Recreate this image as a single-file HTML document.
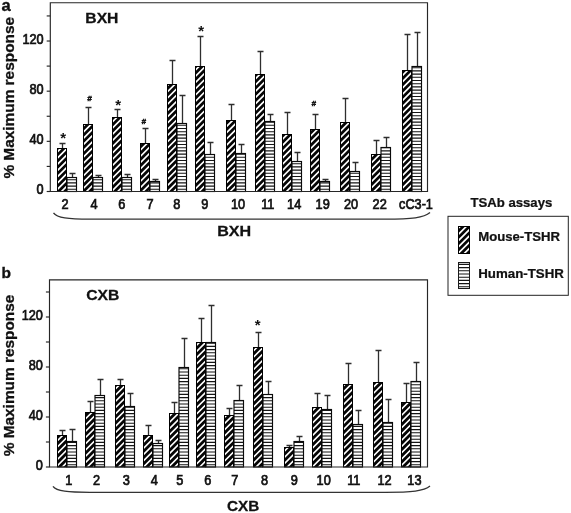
<!DOCTYPE html><html><head><meta charset="utf-8"><title>chart</title>
<style>html,body{margin:0;padding:0;background:#fff}body{width:571px;height:513px;overflow:hidden}svg{display:block;filter:grayscale(1)}text{font-family:"Liberation Sans",sans-serif;fill:#111}</style></head><body>
<svg width="571" height="513" viewBox="0 0 571 513">
<defs>
</defs>
<rect width="571" height="513" fill="#fff"/>
<clipPath id="cd1">
<rect x="57.00" y="148.00" width="10.0" height="43.50"/>
<rect x="83.00" y="124.00" width="10.0" height="67.50"/>
<rect x="112.00" y="117.00" width="10.0" height="74.50"/>
<rect x="140.00" y="143.00" width="10.0" height="48.50"/>
<rect x="167.00" y="84.00" width="10.0" height="107.50"/>
<rect x="195.00" y="66.00" width="10.0" height="125.50"/>
<rect x="226.00" y="120.00" width="10.0" height="71.50"/>
<rect x="255.00" y="74.00" width="10.0" height="117.50"/>
<rect x="282.00" y="134.00" width="10.0" height="57.50"/>
<rect x="310.00" y="129.00" width="10.0" height="62.50"/>
<rect x="340.00" y="122.00" width="10.0" height="69.50"/>
<rect x="371.00" y="154.00" width="10.0" height="37.50"/>
<rect x="402.00" y="70.00" width="10.0" height="121.50"/>
</clipPath>
<clipPath id="cl1">
<rect x="67.00" y="177.00" width="10.0" height="14.50"/>
<rect x="93.00" y="177.00" width="10.0" height="14.50"/>
<rect x="122.00" y="177.00" width="10.0" height="14.50"/>
<rect x="150.00" y="181.00" width="10.0" height="10.50"/>
<rect x="177.00" y="123.00" width="10.0" height="68.50"/>
<rect x="205.00" y="154.00" width="10.0" height="37.50"/>
<rect x="236.00" y="153.00" width="10.0" height="38.50"/>
<rect x="265.00" y="121.00" width="10.0" height="70.50"/>
<rect x="292.00" y="161.00" width="10.0" height="30.50"/>
<rect x="320.00" y="181.00" width="10.0" height="10.50"/>
<rect x="350.00" y="171.00" width="10.0" height="20.50"/>
<rect x="381.00" y="147.00" width="10.0" height="44.50"/>
<rect x="412.00" y="66.00" width="10.0" height="125.50"/>
</clipPath>
<path d="M62.50 148.00V143.50M59.50 143.50H65.50" stroke="#2e2e2e" stroke-width="1.3" fill="none"/>
<path d="M72.50 177.00V173.50M69.50 173.50H75.50" stroke="#2e2e2e" stroke-width="1.3" fill="none"/>
<path d="M88.50 124.00V107.50M85.50 107.50H91.50" stroke="#2e2e2e" stroke-width="1.3" fill="none"/>
<path d="M98.50 177.00V175.50M95.50 175.50H101.50" stroke="#2e2e2e" stroke-width="1.3" fill="none"/>
<path d="M117.50 117.00V109.50M114.50 109.50H120.50" stroke="#2e2e2e" stroke-width="1.3" fill="none"/>
<path d="M127.50 177.00V174.50M124.50 174.50H130.50" stroke="#2e2e2e" stroke-width="1.3" fill="none"/>
<path d="M145.50 143.00V128.50M142.50 128.50H148.50" stroke="#2e2e2e" stroke-width="1.3" fill="none"/>
<path d="M155.50 181.00V179.50M152.50 179.50H158.50" stroke="#2e2e2e" stroke-width="1.3" fill="none"/>
<path d="M172.50 84.00V60.50M169.50 60.50H175.50" stroke="#2e2e2e" stroke-width="1.3" fill="none"/>
<path d="M182.50 123.00V95.50M179.50 95.50H185.50" stroke="#2e2e2e" stroke-width="1.3" fill="none"/>
<path d="M200.50 66.00V36.50M197.50 36.50H203.50" stroke="#2e2e2e" stroke-width="1.3" fill="none"/>
<path d="M210.50 154.00V142.50M207.50 142.50H213.50" stroke="#2e2e2e" stroke-width="1.3" fill="none"/>
<path d="M231.50 120.00V104.50M228.50 104.50H234.50" stroke="#2e2e2e" stroke-width="1.3" fill="none"/>
<path d="M241.50 153.00V144.50M238.50 144.50H244.50" stroke="#2e2e2e" stroke-width="1.3" fill="none"/>
<path d="M260.50 74.00V51.50M257.50 51.50H263.50" stroke="#2e2e2e" stroke-width="1.3" fill="none"/>
<path d="M270.50 121.00V114.50M267.50 114.50H273.50" stroke="#2e2e2e" stroke-width="1.3" fill="none"/>
<path d="M287.50 134.00V112.50M284.50 112.50H290.50" stroke="#2e2e2e" stroke-width="1.3" fill="none"/>
<path d="M297.50 161.00V152.50M294.50 152.50H300.50" stroke="#2e2e2e" stroke-width="1.3" fill="none"/>
<path d="M315.50 129.00V114.50M312.50 114.50H318.50" stroke="#2e2e2e" stroke-width="1.3" fill="none"/>
<path d="M325.50 181.00V179.50M322.50 179.50H328.50" stroke="#2e2e2e" stroke-width="1.3" fill="none"/>
<path d="M345.50 122.00V98.50M342.50 98.50H348.50" stroke="#2e2e2e" stroke-width="1.3" fill="none"/>
<path d="M355.50 171.00V162.50M352.50 162.50H358.50" stroke="#2e2e2e" stroke-width="1.3" fill="none"/>
<path d="M376.50 154.00V140.50M373.50 140.50H379.50" stroke="#2e2e2e" stroke-width="1.3" fill="none"/>
<path d="M386.50 147.00V137.50M383.50 137.50H389.50" stroke="#2e2e2e" stroke-width="1.3" fill="none"/>
<path d="M407.50 70.00V34.50M404.50 34.50H410.50" stroke="#2e2e2e" stroke-width="1.3" fill="none"/>
<path d="M417.50 66.00V32.50M414.50 32.50H420.50" stroke="#2e2e2e" stroke-width="1.3" fill="none"/>
<g clip-path="url(#cd1)"><rect x="50.3" y="2.7" width="377.2" height="188.8" fill="#050505"/>
<path d="M48.30 4.70L52.30 0.70M48.30 10.95L58.55 0.70M48.30 17.20L64.80 0.70M48.30 23.45L71.05 0.70M48.30 29.70L77.30 0.70M48.30 35.95L83.55 0.70M48.30 42.20L89.80 0.70M48.30 48.45L96.05 0.70M48.30 54.70L102.30 0.70M48.30 60.95L108.55 0.70M48.30 67.20L114.80 0.70M48.30 73.45L121.05 0.70M48.30 79.70L127.30 0.70M48.30 85.95L133.55 0.70M48.30 92.20L139.80 0.70M48.30 98.45L146.05 0.70M48.30 104.70L152.30 0.70M48.30 110.95L158.55 0.70M48.30 117.20L164.80 0.70M48.30 123.45L171.05 0.70M48.30 129.70L177.30 0.70M48.30 135.95L183.55 0.70M48.30 142.20L189.80 0.70M48.30 148.45L196.05 0.70M48.30 154.70L202.30 0.70M48.30 160.95L208.55 0.70M48.30 167.20L214.80 0.70M48.30 173.45L221.05 0.70M48.30 179.70L227.30 0.70M48.30 185.95L233.55 0.70M48.30 192.20L239.80 0.70M48.30 198.45L246.05 0.70M48.30 204.70L252.30 0.70M48.30 210.95L258.55 0.70M48.30 217.20L264.80 0.70M48.30 223.45L271.05 0.70M48.30 229.70L277.30 0.70M48.30 235.95L283.55 0.70M48.30 242.20L289.80 0.70M48.30 248.45L296.05 0.70M48.30 254.70L302.30 0.70M48.30 260.95L308.55 0.70M48.30 267.20L314.80 0.70M48.30 273.45L321.05 0.70M48.30 279.70L327.30 0.70M48.30 285.95L333.55 0.70M48.30 292.20L339.80 0.70M48.30 298.45L346.05 0.70M48.30 304.70L352.30 0.70M48.30 310.95L358.55 0.70M48.30 317.20L364.80 0.70M48.30 323.45L371.05 0.70M48.30 329.70L377.30 0.70M48.30 335.95L383.55 0.70M48.30 342.20L389.80 0.70M48.30 348.45L396.05 0.70M48.30 354.70L402.30 0.70M48.30 360.95L408.55 0.70M48.30 367.20L414.80 0.70M48.30 373.45L421.05 0.70M48.30 379.70L427.30 0.70M48.30 385.95L433.55 0.70M48.30 392.20L439.80 0.70M48.30 398.45L446.05 0.70M48.30 404.70L452.30 0.70M48.30 410.95L458.55 0.70M48.30 417.20L464.80 0.70M48.30 423.45L471.05 0.70M48.30 429.70L477.30 0.70M48.30 435.95L483.55 0.70M48.30 442.20L489.80 0.70M48.30 448.45L496.05 0.70M48.30 454.70L502.30 0.70M48.30 460.95L508.55 0.70M48.30 467.20L514.80 0.70M48.30 473.45L521.05 0.70M48.30 479.70L527.30 0.70M48.30 485.95L533.55 0.70M48.30 492.20L539.80 0.70M48.30 498.45L546.05 0.70M48.30 504.70L552.30 0.70M48.30 510.95L558.55 0.70M48.30 517.20L564.80 0.70M48.30 523.45L571.05 0.70M48.30 529.70L577.30 0.70M48.30 535.95L583.55 0.70M48.30 542.20L589.80 0.70M48.30 548.45L596.05 0.70M48.30 554.70L602.30 0.70M48.30 560.95L608.55 0.70M48.30 567.20L614.80 0.70M48.30 573.45L621.05 0.70" stroke="#fff" stroke-width="1.65" fill="none"/></g>
<g clip-path="url(#cl1)"><rect x="50.3" y="2.7" width="377.2" height="188.8" fill="#fff"/>
<path d="M50.3 189.30H427.5M50.3 186.10H427.5M50.3 182.90H427.5M50.3 179.70H427.5M50.3 176.50H427.5M50.3 173.30H427.5M50.3 170.10H427.5M50.3 166.90H427.5M50.3 163.70H427.5M50.3 160.50H427.5M50.3 157.30H427.5M50.3 154.10H427.5M50.3 150.90H427.5M50.3 147.70H427.5M50.3 144.50H427.5M50.3 141.30H427.5M50.3 138.10H427.5M50.3 134.90H427.5M50.3 131.70H427.5M50.3 128.50H427.5M50.3 125.30H427.5M50.3 122.10H427.5M50.3 118.90H427.5M50.3 115.70H427.5M50.3 112.50H427.5M50.3 109.30H427.5M50.3 106.10H427.5M50.3 102.90H427.5M50.3 99.70H427.5M50.3 96.50H427.5M50.3 93.30H427.5M50.3 90.10H427.5M50.3 86.90H427.5M50.3 83.70H427.5M50.3 80.50H427.5M50.3 77.30H427.5M50.3 74.10H427.5M50.3 70.90H427.5M50.3 67.70H427.5M50.3 64.50H427.5M50.3 61.30H427.5M50.3 58.10H427.5M50.3 54.90H427.5M50.3 51.70H427.5M50.3 48.50H427.5M50.3 45.30H427.5M50.3 42.10H427.5M50.3 38.90H427.5M50.3 35.70H427.5M50.3 32.50H427.5M50.3 29.30H427.5M50.3 26.10H427.5M50.3 22.90H427.5M50.3 19.70H427.5M50.3 16.50H427.5M50.3 13.30H427.5M50.3 10.10H427.5M50.3 6.90H427.5M50.3 3.70H427.5" stroke="#151515" stroke-width="1.1" fill="none"/></g>
<rect x="57.50" y="148.50" width="9.0" height="43.00" fill="none" stroke="#000" stroke-width="1"/>
<rect x="67.00" y="177.50" width="9.5" height="14.00" fill="none" stroke="#0a0a0a" stroke-width="1.15"/>
<text transform="translate(65.0 209.10) scale(0.93 1.02)" font-size="13.7" text-anchor="middle" stroke="#111" stroke-width="0.7">2</text>
<text x="63.20" y="143.20" font-size="15" font-weight="bold" text-anchor="middle">*</text>
<rect x="83.50" y="124.50" width="9.0" height="67.00" fill="none" stroke="#000" stroke-width="1"/>
<rect x="93.00" y="177.50" width="9.5" height="14.00" fill="none" stroke="#0a0a0a" stroke-width="1.15"/>
<text transform="translate(94.0 209.10) scale(0.93 1.02)" font-size="13.7" text-anchor="middle" stroke="#111" stroke-width="0.7">4</text>
<text x="89.40" y="100.80" font-size="8" font-weight="bold" font-style="italic" text-anchor="middle" stroke="#111" stroke-width="0.5">#</text>
<rect x="112.50" y="117.50" width="9.0" height="74.00" fill="none" stroke="#000" stroke-width="1"/>
<rect x="122.00" y="177.50" width="9.5" height="14.00" fill="none" stroke="#0a0a0a" stroke-width="1.15"/>
<text transform="translate(121.7 209.10) scale(0.93 1.02)" font-size="13.7" text-anchor="middle" stroke="#111" stroke-width="0.7">6</text>
<text x="118.20" y="109.90" font-size="15" font-weight="bold" text-anchor="middle">*</text>
<rect x="140.50" y="143.50" width="9.0" height="48.00" fill="none" stroke="#000" stroke-width="1"/>
<rect x="150.00" y="181.50" width="9.5" height="10.00" fill="none" stroke="#0a0a0a" stroke-width="1.15"/>
<text transform="translate(150.0 209.10) scale(0.93 1.02)" font-size="13.7" text-anchor="middle" stroke="#111" stroke-width="0.7">7</text>
<text x="143.70" y="124.10" font-size="8" font-weight="bold" font-style="italic" text-anchor="middle" stroke="#111" stroke-width="0.5">#</text>
<rect x="167.50" y="84.50" width="9.0" height="107.00" fill="none" stroke="#000" stroke-width="1"/>
<rect x="177.00" y="123.50" width="9.5" height="68.00" fill="none" stroke="#0a0a0a" stroke-width="1.15"/>
<text transform="translate(176.7 209.10) scale(0.93 1.02)" font-size="13.7" text-anchor="middle" stroke="#111" stroke-width="0.7">8</text>
<rect x="195.50" y="66.50" width="9.0" height="125.00" fill="none" stroke="#000" stroke-width="1"/>
<rect x="205.00" y="154.50" width="9.5" height="37.00" fill="none" stroke="#0a0a0a" stroke-width="1.15"/>
<text transform="translate(204.8 209.10) scale(0.93 1.02)" font-size="13.7" text-anchor="middle" stroke="#111" stroke-width="0.7">9</text>
<text x="201.20" y="36.20" font-size="15" font-weight="bold" text-anchor="middle">*</text>
<rect x="226.50" y="120.50" width="9.0" height="71.00" fill="none" stroke="#000" stroke-width="1"/>
<rect x="236.00" y="153.50" width="9.5" height="38.00" fill="none" stroke="#0a0a0a" stroke-width="1.15"/>
<text transform="translate(238.0 209.10) scale(0.93 1.02)" font-size="13.7" text-anchor="middle" stroke="#111" stroke-width="0.7">10</text>
<rect x="255.50" y="74.50" width="9.0" height="117.00" fill="none" stroke="#000" stroke-width="1"/>
<rect x="265.00" y="121.50" width="9.5" height="70.00" fill="none" stroke="#0a0a0a" stroke-width="1.15"/>
<text transform="translate(267.8 209.10) scale(0.93 1.02)" font-size="13.7" text-anchor="middle" stroke="#111" stroke-width="0.7">11</text>
<rect x="282.50" y="134.50" width="9.0" height="57.00" fill="none" stroke="#000" stroke-width="1"/>
<rect x="292.00" y="161.50" width="9.5" height="30.00" fill="none" stroke="#0a0a0a" stroke-width="1.15"/>
<text transform="translate(294.2 209.10) scale(0.93 1.02)" font-size="13.7" text-anchor="middle" stroke="#111" stroke-width="0.7">14</text>
<rect x="310.50" y="129.50" width="9.0" height="62.00" fill="none" stroke="#000" stroke-width="1"/>
<rect x="320.00" y="181.50" width="9.5" height="10.00" fill="none" stroke="#0a0a0a" stroke-width="1.15"/>
<text transform="translate(322.7 209.10) scale(0.93 1.02)" font-size="13.7" text-anchor="middle" stroke="#111" stroke-width="0.7">19</text>
<text x="313.70" y="105.90" font-size="8" font-weight="bold" font-style="italic" text-anchor="middle" stroke="#111" stroke-width="0.5">#</text>
<rect x="340.50" y="122.50" width="9.0" height="69.00" fill="none" stroke="#000" stroke-width="1"/>
<rect x="350.00" y="171.50" width="9.5" height="20.00" fill="none" stroke="#0a0a0a" stroke-width="1.15"/>
<text transform="translate(351.0 209.10) scale(0.93 1.02)" font-size="13.7" text-anchor="middle" stroke="#111" stroke-width="0.7">20</text>
<rect x="371.50" y="154.50" width="9.0" height="37.00" fill="none" stroke="#000" stroke-width="1"/>
<rect x="381.00" y="147.50" width="9.5" height="44.00" fill="none" stroke="#0a0a0a" stroke-width="1.15"/>
<text transform="translate(379.7 209.10) scale(0.93 1.02)" font-size="13.7" text-anchor="middle" stroke="#111" stroke-width="0.7">22</text>
<rect x="402.50" y="70.50" width="9.0" height="121.00" fill="none" stroke="#000" stroke-width="1"/>
<rect x="412.00" y="66.50" width="9.5" height="125.00" fill="none" stroke="#0a0a0a" stroke-width="1.15"/>
<text transform="translate(416 209.10) scale(1 1.02)" font-size="13.7" text-anchor="middle" stroke="#111" stroke-width="0.7" textLength="33.8" lengthAdjust="spacingAndGlyphs">cC3-1</text>
<path d="M50.3 191.5V2.7H427.5V191.5Z" fill="none" stroke="#262626" stroke-width="1.15"/>
<path d="M46.699999999999996 191.50H50.3" stroke="#262626" stroke-width="1.15"/>
<text transform="translate(43.70 194.40) scale(0.93 1.02)" font-size="13.7" text-anchor="end" stroke="#111" stroke-width="0.7">0</text>
<path d="M46.699999999999996 166.42H50.3" stroke="#262626" stroke-width="1.15"/>
<path d="M46.699999999999996 141.34H50.3" stroke="#262626" stroke-width="1.15"/>
<text transform="translate(43.70 144.24) scale(0.93 1.02)" font-size="13.7" text-anchor="end" stroke="#111" stroke-width="0.7">40</text>
<path d="M46.699999999999996 116.26H50.3" stroke="#262626" stroke-width="1.15"/>
<path d="M46.699999999999996 91.18H50.3" stroke="#262626" stroke-width="1.15"/>
<text transform="translate(43.70 94.08) scale(0.93 1.02)" font-size="13.7" text-anchor="end" stroke="#111" stroke-width="0.7">80</text>
<path d="M46.699999999999996 66.10H50.3" stroke="#262626" stroke-width="1.15"/>
<path d="M46.699999999999996 41.02H50.3" stroke="#262626" stroke-width="1.15"/>
<text transform="translate(43.70 43.92) scale(0.93 1.02)" font-size="13.7" text-anchor="end" stroke="#111" stroke-width="0.7">120</text>
<path d="M46.699999999999996 15.94H50.3" stroke="#262626" stroke-width="1.15"/>
<clipPath id="cd2">
<rect x="57.00" y="435.00" width="10.0" height="32.00"/>
<rect x="85.00" y="412.00" width="10.0" height="55.00"/>
<rect x="115.00" y="385.00" width="10.0" height="82.00"/>
<rect x="143.00" y="435.00" width="10.0" height="32.00"/>
<rect x="169.00" y="413.00" width="10.0" height="54.00"/>
<rect x="196.00" y="342.00" width="10.0" height="125.00"/>
<rect x="224.00" y="415.00" width="10.0" height="52.00"/>
<rect x="253.00" y="347.00" width="10.0" height="120.00"/>
<rect x="284.00" y="447.00" width="10.0" height="20.00"/>
<rect x="312.00" y="407.00" width="10.0" height="60.00"/>
<rect x="343.00" y="384.00" width="10.0" height="83.00"/>
<rect x="373.00" y="382.00" width="10.0" height="85.00"/>
<rect x="401.00" y="402.00" width="10.0" height="65.00"/>
</clipPath>
<clipPath id="cl2">
<rect x="67.00" y="441.00" width="10.0" height="26.00"/>
<rect x="95.00" y="395.00" width="10.0" height="72.00"/>
<rect x="125.00" y="406.00" width="10.0" height="61.00"/>
<rect x="153.00" y="443.00" width="10.0" height="24.00"/>
<rect x="179.00" y="367.00" width="10.0" height="100.00"/>
<rect x="206.00" y="342.00" width="10.0" height="125.00"/>
<rect x="234.00" y="400.00" width="10.0" height="67.00"/>
<rect x="263.00" y="394.00" width="10.0" height="73.00"/>
<rect x="294.00" y="441.00" width="10.0" height="26.00"/>
<rect x="322.00" y="409.00" width="10.0" height="58.00"/>
<rect x="353.00" y="424.00" width="10.0" height="43.00"/>
<rect x="383.00" y="422.00" width="10.0" height="45.00"/>
<rect x="411.00" y="381.00" width="10.0" height="86.00"/>
</clipPath>
<path d="M62.50 435.00V430.50M59.50 430.50H65.50" stroke="#2e2e2e" stroke-width="1.3" fill="none"/>
<path d="M72.50 441.00V429.50M69.50 429.50H75.50" stroke="#2e2e2e" stroke-width="1.3" fill="none"/>
<path d="M90.50 412.00V401.50M87.50 401.50H93.50" stroke="#2e2e2e" stroke-width="1.3" fill="none"/>
<path d="M100.50 395.00V379.50M97.50 379.50H103.50" stroke="#2e2e2e" stroke-width="1.3" fill="none"/>
<path d="M120.50 385.00V379.50M117.50 379.50H123.50" stroke="#2e2e2e" stroke-width="1.3" fill="none"/>
<path d="M130.50 406.00V393.50M127.50 393.50H133.50" stroke="#2e2e2e" stroke-width="1.3" fill="none"/>
<path d="M148.50 435.00V425.50M145.50 425.50H151.50" stroke="#2e2e2e" stroke-width="1.3" fill="none"/>
<path d="M158.50 443.00V440.50M155.50 440.50H161.50" stroke="#2e2e2e" stroke-width="1.3" fill="none"/>
<path d="M174.50 413.00V402.50M171.50 402.50H177.50" stroke="#2e2e2e" stroke-width="1.3" fill="none"/>
<path d="M184.50 367.00V338.50M181.50 338.50H187.50" stroke="#2e2e2e" stroke-width="1.3" fill="none"/>
<path d="M201.50 342.00V318.50M198.50 318.50H204.50" stroke="#2e2e2e" stroke-width="1.3" fill="none"/>
<path d="M211.50 342.00V305.50M208.50 305.50H214.50" stroke="#2e2e2e" stroke-width="1.3" fill="none"/>
<path d="M229.50 415.00V408.50M226.50 408.50H232.50" stroke="#2e2e2e" stroke-width="1.3" fill="none"/>
<path d="M239.50 400.00V385.50M236.50 385.50H242.50" stroke="#2e2e2e" stroke-width="1.3" fill="none"/>
<path d="M258.50 347.00V332.50M255.50 332.50H261.50" stroke="#2e2e2e" stroke-width="1.3" fill="none"/>
<path d="M268.50 394.00V381.50M265.50 381.50H271.50" stroke="#2e2e2e" stroke-width="1.3" fill="none"/>
<path d="M289.50 447.00V445.50M286.50 445.50H292.50" stroke="#2e2e2e" stroke-width="1.3" fill="none"/>
<path d="M299.50 441.00V436.50M296.50 436.50H302.50" stroke="#2e2e2e" stroke-width="1.3" fill="none"/>
<path d="M317.50 407.00V393.50M314.50 393.50H320.50" stroke="#2e2e2e" stroke-width="1.3" fill="none"/>
<path d="M327.50 409.00V395.50M324.50 395.50H330.50" stroke="#2e2e2e" stroke-width="1.3" fill="none"/>
<path d="M348.50 384.00V363.50M345.50 363.50H351.50" stroke="#2e2e2e" stroke-width="1.3" fill="none"/>
<path d="M358.50 424.00V410.50M355.50 410.50H361.50" stroke="#2e2e2e" stroke-width="1.3" fill="none"/>
<path d="M378.50 382.00V350.50M375.50 350.50H381.50" stroke="#2e2e2e" stroke-width="1.3" fill="none"/>
<path d="M388.50 422.00V399.50M385.50 399.50H391.50" stroke="#2e2e2e" stroke-width="1.3" fill="none"/>
<path d="M406.50 402.00V383.50M403.50 383.50H409.50" stroke="#2e2e2e" stroke-width="1.3" fill="none"/>
<path d="M416.50 381.00V362.50M413.50 362.50H419.50" stroke="#2e2e2e" stroke-width="1.3" fill="none"/>
<g clip-path="url(#cd2)"><rect x="49.5" y="279.8" width="378.0" height="187.2" fill="#050505"/>
<path d="M47.50 281.80L51.50 277.80M47.50 288.05L57.75 277.80M47.50 294.30L64.00 277.80M47.50 300.55L70.25 277.80M47.50 306.80L76.50 277.80M47.50 313.05L82.75 277.80M47.50 319.30L89.00 277.80M47.50 325.55L95.25 277.80M47.50 331.80L101.50 277.80M47.50 338.05L107.75 277.80M47.50 344.30L114.00 277.80M47.50 350.55L120.25 277.80M47.50 356.80L126.50 277.80M47.50 363.05L132.75 277.80M47.50 369.30L139.00 277.80M47.50 375.55L145.25 277.80M47.50 381.80L151.50 277.80M47.50 388.05L157.75 277.80M47.50 394.30L164.00 277.80M47.50 400.55L170.25 277.80M47.50 406.80L176.50 277.80M47.50 413.05L182.75 277.80M47.50 419.30L189.00 277.80M47.50 425.55L195.25 277.80M47.50 431.80L201.50 277.80M47.50 438.05L207.75 277.80M47.50 444.30L214.00 277.80M47.50 450.55L220.25 277.80M47.50 456.80L226.50 277.80M47.50 463.05L232.75 277.80M47.50 469.30L239.00 277.80M47.50 475.55L245.25 277.80M47.50 481.80L251.50 277.80M47.50 488.05L257.75 277.80M47.50 494.30L264.00 277.80M47.50 500.55L270.25 277.80M47.50 506.80L276.50 277.80M47.50 513.05L282.75 277.80M47.50 519.30L289.00 277.80M47.50 525.55L295.25 277.80M47.50 531.80L301.50 277.80M47.50 538.05L307.75 277.80M47.50 544.30L314.00 277.80M47.50 550.55L320.25 277.80M47.50 556.80L326.50 277.80M47.50 563.05L332.75 277.80M47.50 569.30L339.00 277.80M47.50 575.55L345.25 277.80M47.50 581.80L351.50 277.80M47.50 588.05L357.75 277.80M47.50 594.30L364.00 277.80M47.50 600.55L370.25 277.80M47.50 606.80L376.50 277.80M47.50 613.05L382.75 277.80M47.50 619.30L389.00 277.80M47.50 625.55L395.25 277.80M47.50 631.80L401.50 277.80M47.50 638.05L407.75 277.80M47.50 644.30L414.00 277.80M47.50 650.55L420.25 277.80M47.50 656.80L426.50 277.80M47.50 663.05L432.75 277.80M47.50 669.30L439.00 277.80M47.50 675.55L445.25 277.80M47.50 681.80L451.50 277.80M47.50 688.05L457.75 277.80M47.50 694.30L464.00 277.80M47.50 700.55L470.25 277.80M47.50 706.80L476.50 277.80M47.50 713.05L482.75 277.80M47.50 719.30L489.00 277.80M47.50 725.55L495.25 277.80M47.50 731.80L501.50 277.80M47.50 738.05L507.75 277.80M47.50 744.30L514.00 277.80M47.50 750.55L520.25 277.80M47.50 756.80L526.50 277.80M47.50 763.05L532.75 277.80M47.50 769.30L539.00 277.80M47.50 775.55L545.25 277.80M47.50 781.80L551.50 277.80M47.50 788.05L557.75 277.80M47.50 794.30L564.00 277.80M47.50 800.55L570.25 277.80M47.50 806.80L576.50 277.80M47.50 813.05L582.75 277.80M47.50 819.30L589.00 277.80M47.50 825.55L595.25 277.80M47.50 831.80L601.50 277.80M47.50 838.05L607.75 277.80M47.50 844.30L614.00 277.80M47.50 850.55L620.25 277.80" stroke="#fff" stroke-width="1.65" fill="none"/></g>
<g clip-path="url(#cl2)"><rect x="49.5" y="279.8" width="378.0" height="187.2" fill="#fff"/>
<path d="M49.5 464.80H427.5M49.5 461.60H427.5M49.5 458.40H427.5M49.5 455.20H427.5M49.5 452.00H427.5M49.5 448.80H427.5M49.5 445.60H427.5M49.5 442.40H427.5M49.5 439.20H427.5M49.5 436.00H427.5M49.5 432.80H427.5M49.5 429.60H427.5M49.5 426.40H427.5M49.5 423.20H427.5M49.5 420.00H427.5M49.5 416.80H427.5M49.5 413.60H427.5M49.5 410.40H427.5M49.5 407.20H427.5M49.5 404.00H427.5M49.5 400.80H427.5M49.5 397.60H427.5M49.5 394.40H427.5M49.5 391.20H427.5M49.5 388.00H427.5M49.5 384.80H427.5M49.5 381.60H427.5M49.5 378.40H427.5M49.5 375.20H427.5M49.5 372.00H427.5M49.5 368.80H427.5M49.5 365.60H427.5M49.5 362.40H427.5M49.5 359.20H427.5M49.5 356.00H427.5M49.5 352.80H427.5M49.5 349.60H427.5M49.5 346.40H427.5M49.5 343.20H427.5M49.5 340.00H427.5M49.5 336.80H427.5M49.5 333.60H427.5M49.5 330.40H427.5M49.5 327.20H427.5M49.5 324.00H427.5M49.5 320.80H427.5M49.5 317.60H427.5M49.5 314.40H427.5M49.5 311.20H427.5M49.5 308.00H427.5M49.5 304.80H427.5M49.5 301.60H427.5M49.5 298.40H427.5M49.5 295.20H427.5M49.5 292.00H427.5M49.5 288.80H427.5M49.5 285.60H427.5M49.5 282.40H427.5" stroke="#151515" stroke-width="1.1" fill="none"/></g>
<rect x="57.50" y="435.50" width="9.0" height="31.50" fill="none" stroke="#000" stroke-width="1"/>
<rect x="67.00" y="441.50" width="9.5" height="25.50" fill="none" stroke="#0a0a0a" stroke-width="1.15"/>
<text transform="translate(68.8 485.20) scale(0.93 1.02)" font-size="13.7" text-anchor="middle" stroke="#111" stroke-width="0.7">1</text>
<rect x="85.50" y="412.50" width="9.0" height="54.50" fill="none" stroke="#000" stroke-width="1"/>
<rect x="95.00" y="395.50" width="9.5" height="71.50" fill="none" stroke="#0a0a0a" stroke-width="1.15"/>
<text transform="translate(96.5 485.20) scale(0.93 1.02)" font-size="13.7" text-anchor="middle" stroke="#111" stroke-width="0.7">2</text>
<rect x="115.50" y="385.50" width="9.0" height="81.50" fill="none" stroke="#000" stroke-width="1"/>
<rect x="125.00" y="406.50" width="9.5" height="60.50" fill="none" stroke="#0a0a0a" stroke-width="1.15"/>
<text transform="translate(126.3 485.20) scale(0.93 1.02)" font-size="13.7" text-anchor="middle" stroke="#111" stroke-width="0.7">3</text>
<rect x="143.50" y="435.50" width="9.0" height="31.50" fill="none" stroke="#000" stroke-width="1"/>
<rect x="153.00" y="443.50" width="9.5" height="23.50" fill="none" stroke="#0a0a0a" stroke-width="1.15"/>
<text transform="translate(154.3 485.20) scale(0.93 1.02)" font-size="13.7" text-anchor="middle" stroke="#111" stroke-width="0.7">4</text>
<rect x="169.50" y="413.50" width="9.0" height="53.50" fill="none" stroke="#000" stroke-width="1"/>
<rect x="179.00" y="367.50" width="9.5" height="99.50" fill="none" stroke="#0a0a0a" stroke-width="1.15"/>
<text transform="translate(179.9 485.20) scale(0.93 1.02)" font-size="13.7" text-anchor="middle" stroke="#111" stroke-width="0.7">5</text>
<rect x="196.50" y="342.50" width="9.0" height="124.50" fill="none" stroke="#000" stroke-width="1"/>
<rect x="206.00" y="342.50" width="9.5" height="124.50" fill="none" stroke="#0a0a0a" stroke-width="1.15"/>
<text transform="translate(207.9 485.20) scale(0.93 1.02)" font-size="13.7" text-anchor="middle" stroke="#111" stroke-width="0.7">6</text>
<rect x="224.50" y="415.50" width="9.0" height="51.50" fill="none" stroke="#000" stroke-width="1"/>
<rect x="234.00" y="400.50" width="9.5" height="66.50" fill="none" stroke="#0a0a0a" stroke-width="1.15"/>
<text transform="translate(234.8 485.20) scale(0.93 1.02)" font-size="13.7" text-anchor="middle" stroke="#111" stroke-width="0.7">7</text>
<rect x="253.50" y="347.50" width="9.0" height="119.50" fill="none" stroke="#000" stroke-width="1"/>
<rect x="263.00" y="394.50" width="9.5" height="72.50" fill="none" stroke="#0a0a0a" stroke-width="1.15"/>
<text transform="translate(264.5 485.20) scale(0.93 1.02)" font-size="13.7" text-anchor="middle" stroke="#111" stroke-width="0.7">8</text>
<text x="257.70" y="329.70" font-size="15" font-weight="bold" text-anchor="middle">*</text>
<rect x="284.50" y="447.50" width="9.0" height="19.50" fill="none" stroke="#000" stroke-width="1"/>
<rect x="294.00" y="441.50" width="9.5" height="25.50" fill="none" stroke="#0a0a0a" stroke-width="1.15"/>
<text transform="translate(294.3 485.20) scale(0.93 1.02)" font-size="13.7" text-anchor="middle" stroke="#111" stroke-width="0.7">9</text>
<rect x="312.50" y="407.50" width="9.0" height="59.50" fill="none" stroke="#000" stroke-width="1"/>
<rect x="322.00" y="409.50" width="9.5" height="57.50" fill="none" stroke="#0a0a0a" stroke-width="1.15"/>
<text transform="translate(323.7 485.20) scale(0.93 1.02)" font-size="13.7" text-anchor="middle" stroke="#111" stroke-width="0.7">10</text>
<rect x="343.50" y="384.50" width="9.0" height="82.50" fill="none" stroke="#000" stroke-width="1"/>
<rect x="353.00" y="424.50" width="9.5" height="42.50" fill="none" stroke="#0a0a0a" stroke-width="1.15"/>
<text transform="translate(353.8 485.20) scale(0.93 1.02)" font-size="13.7" text-anchor="middle" stroke="#111" stroke-width="0.7">11</text>
<rect x="373.50" y="382.50" width="9.0" height="84.50" fill="none" stroke="#000" stroke-width="1"/>
<rect x="383.00" y="422.50" width="9.5" height="44.50" fill="none" stroke="#0a0a0a" stroke-width="1.15"/>
<text transform="translate(384.5 485.20) scale(0.93 1.02)" font-size="13.7" text-anchor="middle" stroke="#111" stroke-width="0.7">12</text>
<rect x="401.50" y="402.50" width="9.0" height="64.50" fill="none" stroke="#000" stroke-width="1"/>
<rect x="411.00" y="381.50" width="9.5" height="85.50" fill="none" stroke="#0a0a0a" stroke-width="1.15"/>
<text transform="translate(414.4 485.20) scale(0.93 1.02)" font-size="13.7" text-anchor="middle" stroke="#111" stroke-width="0.7">13</text>
<path d="M49.5 467.0V279.8H427.5V467.0Z" fill="none" stroke="#262626" stroke-width="1.15"/>
<path d="M45.9 467.00H49.5" stroke="#262626" stroke-width="1.15"/>
<text transform="translate(42.90 469.90) scale(0.93 1.02)" font-size="13.7" text-anchor="end" stroke="#111" stroke-width="0.7">0</text>
<path d="M45.9 442.00H49.5" stroke="#262626" stroke-width="1.15"/>
<path d="M45.9 417.00H49.5" stroke="#262626" stroke-width="1.15"/>
<text transform="translate(42.90 419.90) scale(0.93 1.02)" font-size="13.7" text-anchor="end" stroke="#111" stroke-width="0.7">40</text>
<path d="M45.9 392.00H49.5" stroke="#262626" stroke-width="1.15"/>
<path d="M45.9 367.00H49.5" stroke="#262626" stroke-width="1.15"/>
<text transform="translate(42.90 369.90) scale(0.93 1.02)" font-size="13.7" text-anchor="end" stroke="#111" stroke-width="0.7">80</text>
<path d="M45.9 342.00H49.5" stroke="#262626" stroke-width="1.15"/>
<path d="M45.9 317.00H49.5" stroke="#262626" stroke-width="1.15"/>
<text transform="translate(42.90 319.90) scale(0.93 1.02)" font-size="13.7" text-anchor="end" stroke="#111" stroke-width="0.7">120</text>
<path d="M45.9 292.00H49.5" stroke="#262626" stroke-width="1.15"/>
<text x="1.6" y="10.8" font-size="16.5" font-weight="bold" stroke="#111" stroke-width="0.35">a</text>
<text x="1.5" y="278" font-size="15.5" font-weight="bold" stroke="#111" stroke-width="0.35">b</text>
<text transform="translate(85.3 22.6) scale(1 0.93)" font-size="15.7" font-weight="bold" stroke="#111" stroke-width="0.3">BXH</text>
<text transform="translate(86.2 299.5) scale(1 0.93)" font-size="15.7" font-weight="bold" stroke="#111" stroke-width="0.3">CXB</text>
<text transform="translate(217.2 235.6) scale(1 0.93)" font-size="16.1" font-weight="bold" stroke="#111" stroke-width="0.3">BXH</text>
<text transform="translate(227.0 510.9) scale(1 0.95)" font-size="15.3" font-weight="bold" stroke="#111" stroke-width="0.3">CXB</text>
<text transform="translate(13.7 178.6) rotate(-90)" font-size="15.4" font-weight="bold" stroke="#111" stroke-width="0.3">% Maximum response</text>
<text transform="translate(13.7 456.3) rotate(-90)" font-size="15.4" font-weight="bold" stroke="#111" stroke-width="0.3">% Maximum response</text>
<path d="M53.5 212.8C57 217.9 68 219.1 90 219.1H385C412 219.1 424 217.9 430 212.6" fill="none" stroke="#333" stroke-width="1.35"/>
<path d="M53 486.3C56.5 491.2 68 492.3 90 492.3H385C412 492.3 424 491.2 430 486.1" fill="none" stroke="#333" stroke-width="1.35"/>
<text transform="translate(470.4 207.3) scale(1.005 0.93)" font-size="13.1" font-weight="bold" stroke="#111" stroke-width="0.25">TSAb assays</text>
<rect x="448" y="216.3" width="120.3" height="79" fill="#fff" stroke="#222" stroke-width="1"/>
<clipPath id="lg1"><rect x="458" y="226" width="12.00" height="28.00"/></clipPath>
<clipPath id="lg2"><rect x="458" y="262" width="12.00" height="27.00"/></clipPath>
<g clip-path="url(#lg1)"><rect x="458" y="226" width="12.00" height="28.00" fill="#050505"/><path d="M456.00 230.50L472.00 214.50M456.00 236.75L472.00 220.75M456.00 243.00L472.00 227.00M456.00 249.25L472.00 233.25M456.00 255.50L472.00 239.50M456.00 261.75L472.00 245.75M456.00 268.00L472.00 252.00" stroke="#fff" stroke-width="1.65" fill="none"/></g>
<g clip-path="url(#lg2)"><path d="M458 286.80H470M458 283.60H470M458 280.40H470M458 277.20H470M458 274.00H470M458 270.80H470M458 267.60H470M458 264.40H470" stroke="#151515" stroke-width="1.1" fill="none"/></g>
<rect x="458.5" y="226.5" width="11.00" height="27.00" fill="none" stroke="#000" stroke-width="1"/>
<rect x="458.5" y="262.5" width="11.00" height="26.00" fill="none" stroke="#1a1a1a" stroke-width="1"/>
<text transform="translate(478.2 241.2) scale(1.005 0.96)" font-size="13.1" font-weight="bold" stroke="#111" stroke-width="0.25">Mouse-TSHR</text>
<text transform="translate(478.2 277.5) scale(1.015 0.96)" font-size="13.1" font-weight="bold" stroke="#111" stroke-width="0.25">Human-TSHR</text>
</svg></body></html>
